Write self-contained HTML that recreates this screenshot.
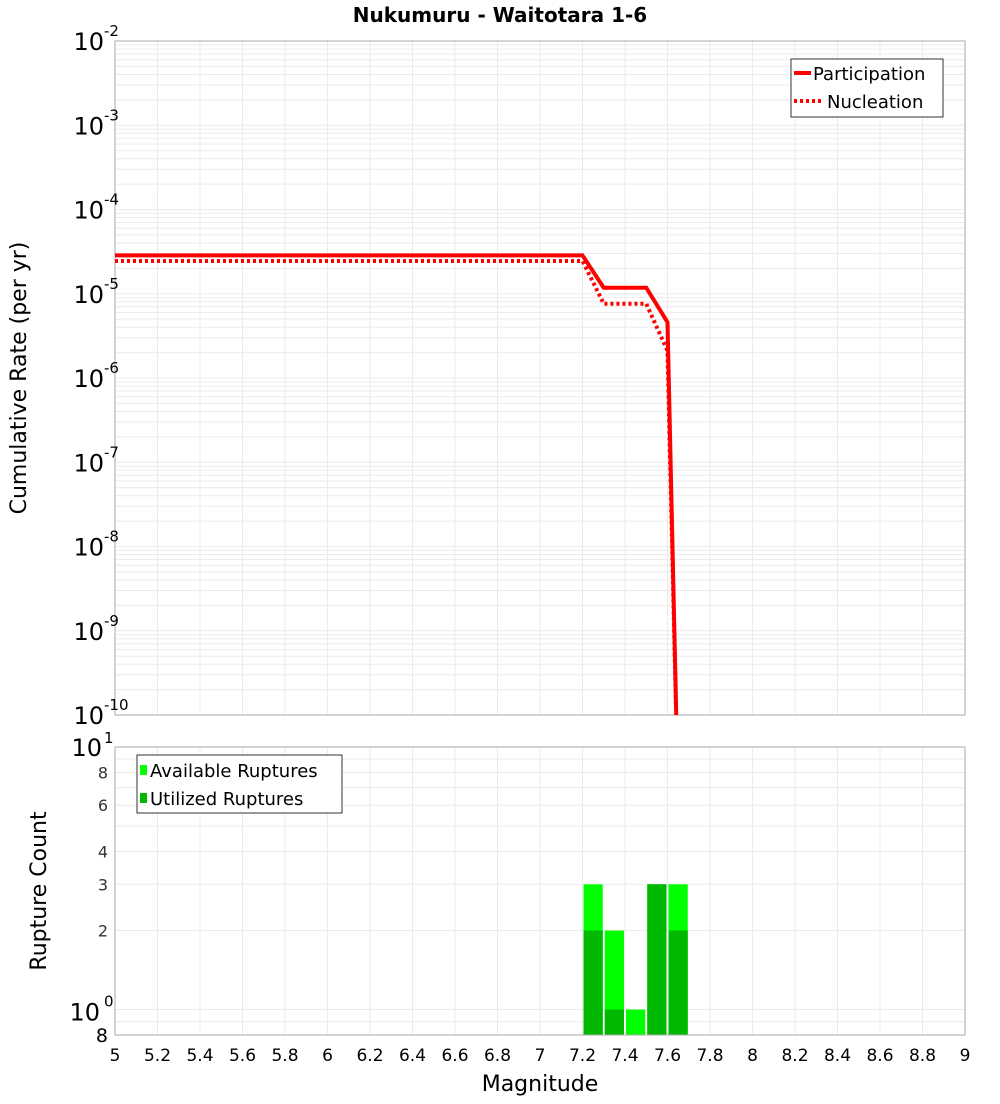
<!DOCTYPE html>
<html><head><meta charset="utf-8"><style>
body{margin:0;background:#fff;font-family:"DejaVu Sans","Liberation Sans",sans-serif;}
svg text{font-family:"DejaVu Sans","Liberation Sans",sans-serif;}
</style></head><body>
<svg id="c" width="1000" height="1100" xmlns="http://www.w3.org/2000/svg">
<text x="500" y="22" text-anchor="middle" font-size="20" font-weight="bold">Nukumuru - Waitotara 1-6</text>
<g id="top"></g><g id="bot"></g>
</svg>
<script>
const mags=[5,7.2,7.3,7.5,7.6,7.65];
const partRates=[2.85e-5,2.85e-5,1.18e-5,1.18e-5,4.6e-6,1e-11];
const nuclRates=[2.45e-5,2.45e-5,7.6e-6,7.6e-6,2.1e-6,1e-11];
const binCenters=[7.25,7.35,7.45,7.55,7.65];
const availCounts=[3,2,1,3,3];
const usedCounts=[2,1,0,3,2];
const xTicks=[5,5.2,5.4,5.6,5.8,6,6.2,6.4,6.6,6.8,7,7.2,7.4,7.6,7.8,8,8.2,8.4,8.6,8.8,9];
const topExp=[-2,-3,-4,-5,-6,-7,-8,-9,-10];
const botTickVals=[8,6,4,3,2];

const NS="http://www.w3.org/2000/svg";
const L=115,R=965,T1=41,B1=715,T2=747,B2=1035;
const xs=m=>L+(m-5)/4*(R-L);
const y1=v=>T1+(-2-Math.log10(v))/8*(B1-T1);
const lo2=Math.log10(0.8),hi2=1;
const y2=v=>T2+(hi2-Math.log10(v))/(hi2-lo2)*(B2-T2);
function mk(p,tag,a,txt){const e=document.createElementNS(NS,tag);for(const k in a)e.setAttribute(k,a[k]);if(txt!==undefined)e.textContent=txt;p.appendChild(e);return e;}
const topG=document.getElementById('top'),botG=document.getElementById('bot');

const gt=mk(topG,'g',{});


for(let e=-10;e<-2;e++)for(let k=1;k<10;k++){const y=y1(k*Math.pow(10,e));mk(gt,'line',{x1:L,x2:R,y1:y,y2:y,stroke:'#ebebeb','stroke-width':1});}
xTicks.forEach(m=>mk(gt,'line',{x1:xs(m),x2:xs(m),y1:T1,y2:B1,stroke:'#ebebeb'}));
mk(topG,'rect',{x:L,y:T1,width:R-L,height:B1-T1,fill:'none',stroke:'#aaa'});
topExp.forEach(e=>{const y=y1(Math.pow(10,e));
 const t=mk(topG,'text',{x:104,y:y+9,'text-anchor':'end','font-size':24},'10');
 
 
 mk(topG,'text',{x:104,y:y-5,'font-size':15},String(e));});
const yt=mk(topG,'text',{x:26,y:378,'text-anchor':'middle','font-size':22,transform:'rotate(-90 26 378)'},'Cumulative Rate (per yr)');


const clip=mk(topG,'clipPath',{id:'cp'});mk(clip,'rect',{x:L,y:T1,width:R-L,height:B1-T1});
const pp=mk(topG,'polyline',{points:mags.map((m,i)=>xs(m)+','+y1(partRates[i])).join(' '),fill:'none',stroke:'#f00','stroke-width':4,'clip-path':'url(#cp)'});


const np=mk(topG,'polyline',{points:mags.map((m,i)=>xs(m)+','+y1(nuclRates[i])).join(' '),fill:'none',stroke:'#f00','stroke-width':4,'stroke-dasharray':'3,3','clip-path':'url(#cp)'});


const lg=mk(topG,'g',{});


mk(lg,'rect',{x:791,y:59,width:152,height:58,fill:'#fff',stroke:'#333'});
mk(lg,'line',{x1:794,x2:811,y1:73,y2:73,stroke:'#f00','stroke-width':4});
mk(lg,'text',{x:813,y:80,'font-size':18},'Participation');
mk(lg,'line',{x1:794,x2:821,y1:101,y2:101,stroke:'#f00','stroke-width':4,'stroke-dasharray':'3,3'});
mk(lg,'text',{x:827,y:108,'font-size':18},'Nucleation');

const gb=mk(botG,'g',{});


[0.8,0.9,1,2,3,4,5,6,7,8,9].forEach(v=>{const y=y2(v);mk(gb,'line',{x1:L,x2:R,y1:y,y2:y,stroke:'#ebebeb'});});
xTicks.forEach(m=>mk(gb,'line',{x1:xs(m),x2:xs(m),y1:T2,y2:B2,stroke:'#ebebeb'}));
const bw=0.1;
binCenters.forEach((c,i)=>{
 const x=xs(c-bw/2)+1,w=xs(c+bw/2)-xs(c-bw/2)-2;
 const a=mk(botG,'rect',{x:x,y:y2(availCounts[i]),width:w,height:B2-y2(availCounts[i]),fill:'#00ff00'});
 
 
 if(usedCounts[i]>0){const u=mk(botG,'rect',{x:x,y:y2(usedCounts[i]),width:w,height:B2-y2(usedCounts[i]),fill:'#00b800'});
 
 }
});
mk(botG,'rect',{x:L,y:T2,width:R-L,height:B2-T2,fill:'none',stroke:'#aaa'});
botTickVals.forEach(v=>{mk(botG,'text',{x:108,y:y2(v)+6,'text-anchor':'end','font-size':16,fill:'#333'},String(v));});
mk(botG,'text',{x:102,y:y2(10)+9,'text-anchor':'end','font-size':24},'10');
mk(botG,'text',{x:104,y:y2(10)-4,'font-size':15},'1');
mk(botG,'text',{x:100,y:y2(1)+11,'text-anchor':'end','font-size':24},'10');
mk(botG,'text',{x:104,y:y2(1)-3,'font-size':15},'0');
mk(botG,'text',{x:108,y:y2(0.8)+7,'text-anchor':'end','font-size':19},'8');
const yb=mk(botG,'text',{x:46,y:891,'text-anchor':'middle','font-size':22,transform:'rotate(-90 46 891)'},'Rupture Count');


const lg2=mk(botG,'g',{});


mk(lg2,'rect',{x:137,y:755,width:205,height:58,fill:'#fff',stroke:'#333'});
mk(lg2,'rect',{x:140,y:765,width:7,height:10,fill:'#00ff00'});
mk(lg2,'text',{x:150,y:777,'font-size':18},'Available Ruptures');
mk(lg2,'rect',{x:140,y:793,width:7,height:10,fill:'#00b800'});
mk(lg2,'text',{x:150,y:805,'font-size':18},'Utilized Ruptures');
xTicks.forEach(m=>{const t=mk(botG,'text',{x:xs(m),y:1061,'text-anchor':'middle','font-size':17},String(m));
 
 });
const xt=mk(botG,'text',{x:540,y:1091,'text-anchor':'middle','font-size':22},'Magnitude');


</script>
</body></html>
